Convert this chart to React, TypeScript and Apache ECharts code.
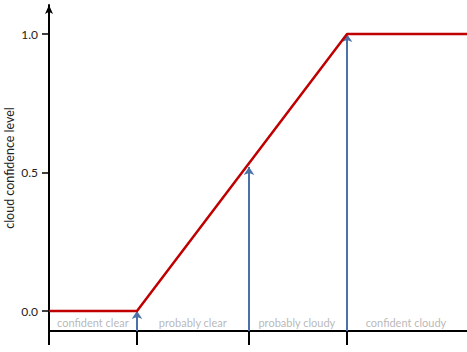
import React, { useEffect, useRef } from "react";
import * as echarts from "echarts";

const yTicks = [0, 0.5, 1];
const xBreaks = [0, 21.05, 47.85, 71.3];
const confidenceCurve: [number, number][] = [
  [0, 0],
  [21.05, 0],
  [71.3, 1],
  [100, 1],
];
const arrowX = [21.05, 47.85, 71.3];
const arrowTop = [0, 0.52, 1];
const regionNames = ["confident clear", "probably clear", "probably cloudy", "confident cloudy"];
const regionCenters = [10.5, 34.4, 59.3, 85.4];
const Y_MIN = -0.072;
const Y_MAX = 1.105;
const LABEL_Y = -0.04;

export default function App() {
  const ref = useRef<HTMLDivElement>(null);
  useEffect(() => {
    if (!ref.current) return;
    const chart = echarts.init(ref.current, null, { renderer: "svg" });
    chart.setOption({
      animation: false,
      grid: { left: 49, right: 0, top: 5, bottom: 21, containLabel: false, outerBoundsMode: "none" },
      xAxis: {
        type: "value",
        min: 0,
        max: 100,
        splitLine: { show: false },
        axisLine: { onZero: false, lineStyle: { color: "#000", width: 2 } },
        axisTick: {
          show: true,
          customValues: xBreaks,
          length: 14,
          lineStyle: { color: "#000", width: 2 },
        },
        axisLabel: { show: false },
      },
      yAxis: {
        type: "value",
        min: Y_MIN,
        max: Y_MAX,
        name: "cloud confidence level",
        nameLocation: "middle",
        nameGap: 33,
        nameMoveOverlap: false,
        nameTextStyle: { fontFamily: "Lato", fontSize: 12.5, color: "#222" },
        splitLine: { show: false },
        axisLine: {
          show: true,
          symbol: ["none", "arrow"],
          symbolSize: [6, 9],
          lineStyle: { color: "#000", width: 2 },
        },
        axisTick: {
          show: true,
          customValues: yTicks,
          length: 7,
          lineStyle: { color: "#000", width: 1.5 },
        },
        axisLabel: {
          customValues: yTicks,
          formatter: (v: number) => v.toFixed(1),
          margin: 11,
          fontFamily: "Lato",
          fontSize: 12,
          color: "#222",
        },
      },
      series: [
        {
          type: "line",
          data: confidenceCurve,
          symbol: "none",
          lineStyle: { color: "#c00000", width: 2.5 },
          z: 3,
        },
        {
          type: "lines",
          coordinateSystem: "cartesian2d",
          symbol: ["none", "arrow"],
          symbolSize: 8,
          lineStyle: { color: "#4a72a8", width: 2, opacity: 1 },
          data: arrowX.map((x, i) => ({
            coords: [
              [x, Y_MIN],
              [x, arrowTop[i]],
            ],
          })),
          z: 2,
        },
        {
          type: "scatter",
          symbolSize: 0,
          data: regionCenters.map((x, i) => ({ value: [x, LABEL_Y], name: regionNames[i] })),
          label: {
            show: true,
            position: "inside",
            formatter: (p: any) => p.name,
            fontFamily: "Lato",
            fontSize: 11,
            color: "#a6a6a6",
          },
          silent: true,
        },
      ],
    });
    return () => chart.dispose();
  }, []);
  return (
    <div
      ref={ref}
      style={{ position: "fixed", left: 0, top: 0, width: 467, height: 352, background: "#fff" }}
    />
  );
}
